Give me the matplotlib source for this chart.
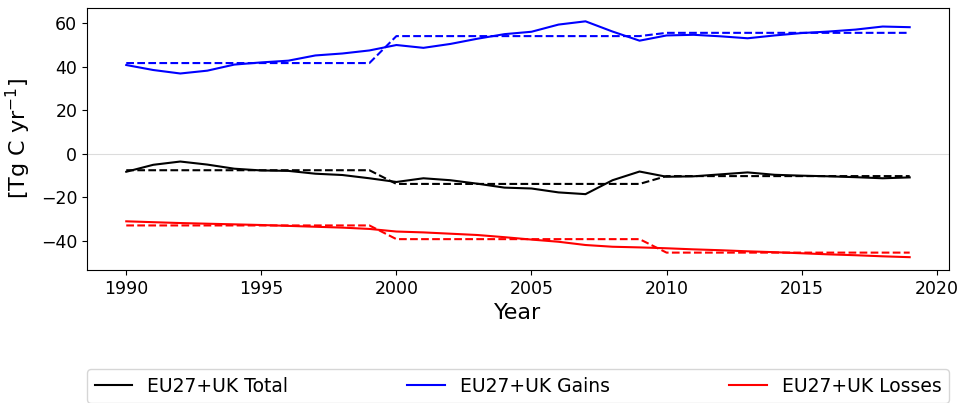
import numpy as np
import matplotlib.pyplot as plt

# ── Data (Tg C / yr) ─────────────────────────────────────────────────────────
years = list(range(1990, 2020))

total = [-8.3, -5.1, -3.6, -5.0, -6.9, -7.7, -7.9, -9.2, -9.8, -11.3,
         -13.0, -11.3, -12.2, -13.8, -15.6, -16.0, -17.8, -18.6, -12.2, -8.2,
         -10.6, -10.4, -9.5, -8.6, -9.7, -10.1, -10.4, -10.8, -11.3, -10.9]
total_mean = [-7.6] * 10 + [-13.9] * 10 + [-10.3] * 10

gains = [40.8, 38.5, 36.9, 38.2, 41.0, 42.0, 42.8, 45.2, 46.1, 47.5,
         50.0, 48.7, 50.5, 52.9, 55.0, 56.1, 59.4, 60.9, 56.2, 52.0,
         54.4, 54.7, 54.0, 53.1, 54.4, 55.5, 56.2, 57.1, 58.5, 58.2]
gains_mean = [41.7] * 10 + [54.1] * 10 + [55.6] * 10

losses = [-31.1, -31.5, -31.9, -32.2, -32.5, -32.8, -33.2, -33.6, -34.0, -34.6,
          -35.8, -36.2, -36.8, -37.4, -38.4, -39.5, -40.5, -42.0, -42.8, -43.1,
          -43.5, -44.0, -44.4, -44.9, -45.3, -45.8, -46.3, -46.7, -47.2, -47.6]
losses_mean = [-33.0] * 10 + [-39.3] * 10 + [-45.5] * 10

SERIES = [
    ("EU27+UK Total",  total,  total_mean,  "k"),
    ("EU27+UK Gains",  gains,  gains_mean,  "b"),
    ("EU27+UK Losses", losses, losses_mean, "r"),
]

fig = plt.figure(figsize=(9.57, 4.03), dpi=100)
ax = fig.add_axes([0.091, 0.330, 0.9005, 0.650])

ax.axhline(0, color="#dcdcdc", lw=0.8, zorder=0)
for label, vals, means, col in SERIES:
    ax.plot(years, vals, color=col, lw=1.5, label=label)
    ax.plot(years, means, color=col, lw=1.5, ls="--")

ax.set_ylim(-53.5, 67)
ax.set_yticks([-40, -20, 0, 20, 40, 60])
ax.tick_params(labelsize=12.5)
ax.set_xlabel("Year", fontsize=16)
ax.set_ylabel("[Tg C yr$^{-1}$]", fontsize=16, labelpad=6)

ax.legend(loc="upper left", bbox_to_anchor=(0.0, -0.378, 1.0, 0.0),
          mode="expand", ncol=3, borderaxespad=0, fontsize=13.5)

fig.savefig("out.png", dpi=100)
